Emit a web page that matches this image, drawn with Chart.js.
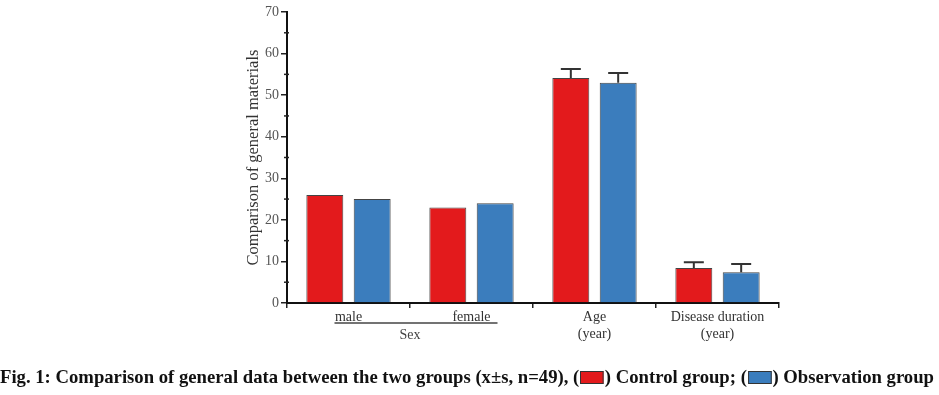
<!DOCTYPE html>
<html><head><meta charset="utf-8">
<script src="https://cdn.jsdelivr.net/npm/chart.js@4"></script>
<style>
html,body{margin:0;padding:0;background:#fff;}
#wrap{position:relative;width:939px;height:395px;overflow:hidden;}
#c{position:absolute;left:0;top:0;}
#cap{position:absolute;left:0;top:365px;white-space:nowrap;font-family:"Liberation Serif","Times New Roman",serif;font-weight:bold;font-size:19px;color:#111;transform-origin:0 0;line-height:23px;}
.sw{display:inline-block;width:22px;height:11px;border:1.5px solid #333;vertical-align:-1px;margin:0 1px;}
</style></head>
<body><div id="wrap"><canvas id="c" width="939" height="395"></canvas>
<div id="cap">Fig. 1: Comparison of general data between the two groups (x±s, n=49), (<span class="sw" style="background:#e31a1c"></span>) Control group; (<span class="sw" style="background:#3b7dbd"></span>) Observation group</div></div>
<script>
const categories = [["male"], ["female"], ["Age", "(year)"], ["Disease duration", "(year)"]];
const controlValues = [26, 23, 54.1, 8.4];
const controlSD = [null, null, 2.2, 1.4];
const observationValues = [25, 24, 53.0, 7.4];
const observationSD = [null, null, 2.3, 2.0];
const yTicks = [0, 10, 20, 30, 40, 50, 60, 70];
const groupLabel = "Sex";
const yTitle = "Comparison of general materials";

const cap = document.getElementById('cap');
const w = cap.getBoundingClientRect().width;
cap.style.transform = 'scaleX(' + (934 / w) + ')';

const serif = '"Liberation Serif","Times New Roman",serif';

const extras = {
  id: 'extras',
  afterDatasetsDraw(chart) {
    const ctx = chart.ctx;
    const y = chart.scales.y, x = chart.scales.x;
    ctx.save();
    const sds = [controlSD, observationSD];
    chart.data.datasets.forEach((ds, di) => {
      const meta = chart.getDatasetMeta(di);
      meta.data.forEach((bar, i) => {
        const sd = sds[di][i];
        if (sd == null) return;
        const v = ds.data[i];
        const top = y.getPixelForValue(v + sd);
        ctx.strokeStyle = '#333';
        ctx.lineWidth = 2;
        ctx.beginPath();
        ctx.moveTo(bar.x, bar.y);
        ctx.lineTo(bar.x, top);
        ctx.moveTo(bar.x - 10, top);
        ctx.lineTo(bar.x + 10, top);
        ctx.stroke();
      });
    });
    ctx.strokeStyle = '#222';
    ctx.lineWidth = 1.5;
    for (let v = 5; v < 70; v += 10) {
      const py = y.getPixelForValue(v);
      ctx.beginPath();
      ctx.moveTo(x.left - 3, py);
      ctx.lineTo(x.left + 2, py);
      ctx.stroke();
    }
    ctx.fillStyle = '#333';
    ctx.font = '16.5px ' + serif;
    ctx.textAlign = 'center';
    ctx.textBaseline = 'middle';
    ctx.translate(254, (y.top + y.bottom) / 2);
    ctx.rotate(-Math.PI / 2);
    ctx.fillText(yTitle, 0, 0);
    ctx.setTransform(1, 0, 0, 1, 0, 0);
    const x0 = x.getPixelForValue(0), x1 = x.getPixelForValue(1);
    ctx.strokeStyle = '#444';
    ctx.lineWidth = 1.5;
    ctx.beginPath();
    ctx.moveTo(x0 - 14, y.bottom + 20);
    ctx.lineTo(x1 + 26, y.bottom + 20);
    ctx.stroke();
    ctx.fillStyle = '#444';
    ctx.font = '14px ' + serif;
    ctx.fillText(groupLabel, (x0 + x1) / 2, y.bottom + 32);
    ctx.restore();
  }
};

new Chart(document.getElementById('c'), {
  type: 'bar',
  data: {
    labels: categories,
    datasets: [
      { label: 'Control group', data: controlValues, backgroundColor: '#e31a1c', borderColor: '#444', borderWidth: 1 },
      { label: 'Observation group', data: observationValues, backgroundColor: '#3b7dbd', borderColor: '#444', borderWidth: 1 }
    ]
  },
  options: {
    responsive: false,
    animation: false,
    layout: { padding: { left: 237, right: 160, top: 12, bottom: 52 } },
    categoryPercentage: 0.77,
    barPercentage: 0.78,
    plugins: { legend: { display: false }, tooltip: { enabled: false } },
    scales: {
      x: {
        grid: { display: true, drawOnChartArea: false, drawTicks: true, tickLength: 5, color: '#222', lineWidth: 1.5, offset: true },
        border: { display: true, color: '#111', width: 2 },
        ticks: { color: '#333', font: { family: serif, size: 14 }, padding: 1, maxRotation: 0, autoSkip: false },
        afterFit(s) { s.height = 40; }
      },
      y: {
        min: 0, max: 70,
        afterBuildTicks(s) { s.ticks = yTicks.map(v => ({ value: v })); },
        grid: { display: true, drawOnChartArea: false, drawTicks: true, tickLength: 6, color: '#222', lineWidth: 1.5 },
        border: { display: true, color: '#111', width: 2 },
        ticks: { color: '#555', font: { family: serif, size: 14 }, padding: 2 },
        afterFit(s) { s.width = 50; }
      }
    }
  },
  plugins: [extras]
});
</script></body></html>
